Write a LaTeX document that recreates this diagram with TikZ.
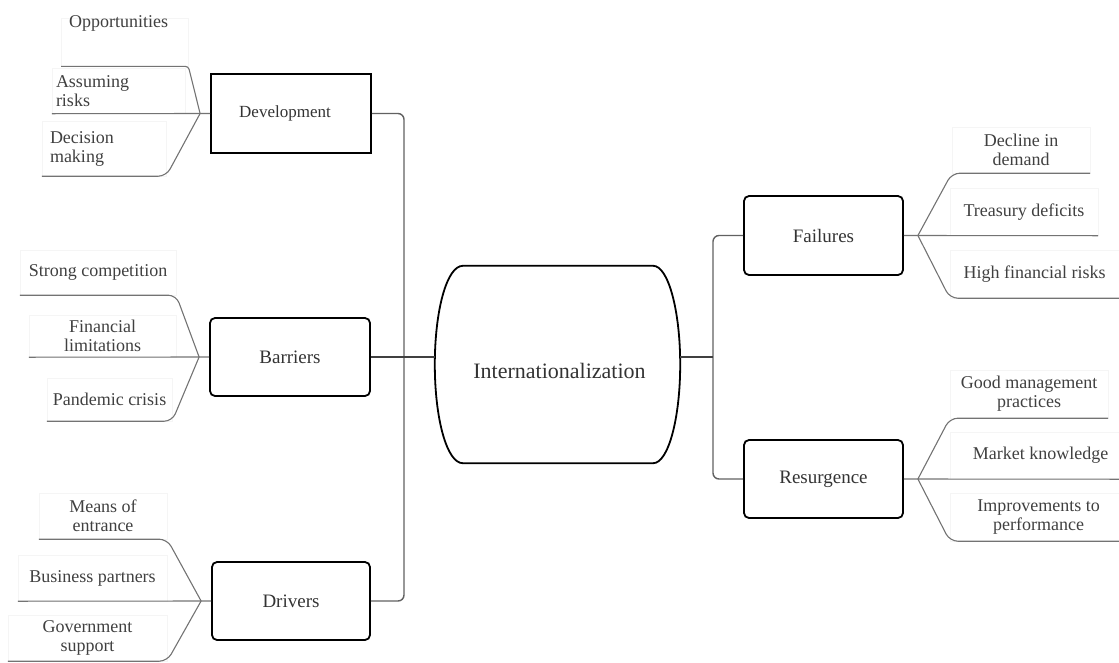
\documentclass[tikz,border=0pt]{standalone}
\usepackage{fontspec}
\setmainfont{Liberation Serif}
\usetikzlibrary{calc}

\tikzset{
  boxline/.style={draw=black, line width=1.8pt},
  mainbox/.style={boxline, rectangle, rounded corners=5pt, inner sep=0pt,
    text=black!80, font=\fontsize{19}{20}\selectfont},
  leaf/.style={draw=black!4, line width=0.4pt, inner sep=0pt, align=center,
    text=black!75, font=\fontsize{18}{19}\selectfont},
  leafleft/.style={leaf, align=left},
  leafline/.style={draw=black!55, line width=1.1pt},
  trunk/.style={draw=black!62, line width=1.4pt},
}

\begin{document}
\begin{tikzpicture}[x=1pt, y=-1pt]
\useasboundingbox (0,0) rectangle (1119,662);

% ---- hub ----
\node[minimum width=245pt, minimum height=197pt, inner sep=0pt] (c) at (557.5,364.5) {};
\draw[boxline] ([xshift=28pt]c.north west) -- ([xshift=-27pt]c.north east)
  .. controls ([xshift=-12pt]c.north east) and ([yshift=54pt]c.east) .. (c.east)
  .. controls ([yshift=-54pt]c.east) and ([xshift=-12pt]c.south east) .. ([xshift=-27pt]c.south east)
  -- ([xshift=28pt]c.south west)
  .. controls ([xshift=12pt]c.south west) and ([yshift=-54pt]c.west) .. (c.west)
  .. controls ([yshift=54pt]c.west) and ([xshift=12pt]c.north west) .. cycle;
\node[text=black!80, font=\fontsize{22}{24}\selectfont] (ctext) at ([xshift=2pt,yshift=-6.5pt]c.center) {Internationalization};

% ---- category boxes ----
\node[mainbox, rounded corners=0pt, minimum width=160pt, minimum height=79pt,
      font=\fontsize{17}{18}\selectfont] (dev) at (291,113.5) {Development\hspace*{12pt}};
\node[mainbox, minimum width=160pt, minimum height=78pt] (bar) at (290,357) {Barriers};
\node[mainbox, minimum width=158pt, minimum height=78pt] (drv) at (291,601) {Drivers};
\node[mainbox, minimum width=159pt, minimum height=79pt] (fail) at (823.5,235.5) {Failures};
\node[mainbox, minimum width=159pt, minimum height=78pt] (res) at (823.5,479) {Resurgence};

% ---- trunks ----
\coordinate (lt) at (404,0);
\coordinate (rt) at (713,0);
\draw[trunk, rounded corners=6pt] (dev.east) -- (dev.east -| lt) -- (drv.east -| lt) -- (drv.east);
\draw[trunk, rounded corners=6pt] (fail.west) -- (fail.west -| rt) -- (res.west -| rt) -- (res.west);
\draw[trunk, draw=black!75] (bar.east) -- (bar.east -| c.west);
\draw[trunk, draw=black!75] (c.east |- bar.east) -- (bar.east -| rt);

% ---- leaves: Development ----
\node[leafleft, anchor=north west, text width=111pt, inner xsep=8pt,
      text height=9pt, text depth=39pt] (opp) at (61,18) {Opportunities};
\node[leafleft, text width=125pt, inner xsep=4pt, minimum height=45.5pt] (asm) at (118.5,90.75) {Assuming\\risks};
\node[leafleft, text width=108pt, inner xsep=8pt, minimum height=55pt] (dcs) at (104,148.5) {Decision\\making};

% ---- leaves: Barriers ----
\node[leaf, minimum width=156pt, minimum height=45pt] (str) at (98,272.5) {Strong competition};
\node[leaf, minimum width=147pt, minimum height=42pt] (fin) at (102.5,336) {Financial\\limitations};
\node[leaf, minimum width=125pt, minimum height=43pt] (pan) at (109.5,399.5) {Pandemic crisis};

% ---- leaves: Drivers ----
\node[leaf, minimum width=128pt, minimum height=46pt] (mea) at (103,516) {Means of\\entrance};
\node[leaf, minimum width=149pt, minimum height=46pt] (bus) at (92.5,578) {Business partners};
\node[leaf, minimum width=159pt, minimum height=46pt] (gov) at (87.5,638) {Government\\support};

% ---- leaves: Failures ----
\node[leaf, minimum width=138pt, minimum height=46pt] (dcl) at (1021,150) {Decline in\\demand};
\node[leaf, minimum width=148pt, minimum height=47.5pt] (tre) at (1024,211.75) {Treasury deficits};
\node[leaf, minimum width=169pt, minimum height=48pt] (hig) at (1034.5,274) {High financial risks};

% ---- leaves: Resurgence ----
\node[leaf, minimum width=158pt, minimum height=48pt] (goo) at (1029,394) {Good management\\practices};
\node[leaf, minimum width=169pt, minimum height=47pt] (mkt) at (1034.5,455.5) {\hspace*{12pt}Market knowledge};
\node[leaf, minimum width=169pt, minimum height=48pt] (imp) at (1034.5,517) {\hspace*{8pt}Improvements to\\\hspace*{8pt}performance};

% ---- fork points ----
\coordinate (devF) at ([xshift=-10pt]dev.west);
\coordinate (barF) at ([xshift=-10pt]bar.west);
\coordinate (drvF) at ([xshift=-10pt]drv.west);
\coordinate (failF) at ([xshift=14pt]fail.east);
\coordinate (resF) at ([xshift=14pt]res.east);

% ---- leaf connectors ----
\draw[leafline, rounded corners=3pt] (opp.south west) -- (opp.south east) -- (devF);
\draw[leafline] (asm.south west) -- (dev.west);
\draw[leafline, rounded corners=8pt] (devF) -- (dcs.south east) -- (dcs.south west);

\draw[leafline, rounded corners=8pt] (str.south west) -- (str.south east) -- (barF);
\draw[leafline] (fin.south west) -- (bar.west);
\draw[leafline, rounded corners=8pt] (barF) -- (pan.south east) -- (pan.south west);

\draw[leafline, rounded corners=8pt] (mea.south west) -- (mea.south east) -- (drvF);
\draw[leafline] (bus.south west) -- (drv.west);
\draw[leafline, rounded corners=8pt] (drvF) -- (gov.south east) -- (gov.south west);

\draw[leafline, rounded corners=8pt] (dcl.south east) -- (dcl.south west) -- (failF);
\draw[leafline] (fail.east) -- (tre.south east);
\draw[leafline, rounded corners=8pt] (failF) -- (hig.south west) -- (hig.south east);

\draw[leafline, rounded corners=8pt] (goo.south east) -- (goo.south west) -- (resF);
\draw[leafline] (res.east) -- (mkt.south east);
\draw[leafline, rounded corners=8pt] (resF) -- (imp.south west) -- (imp.south east);
\end{tikzpicture}
\end{document}
